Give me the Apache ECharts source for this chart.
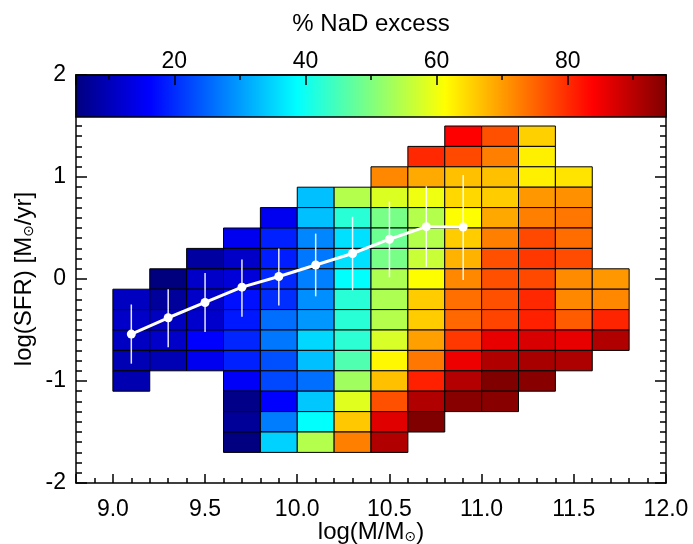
<!DOCTYPE html>
<html><head><meta charset="utf-8">
<script src="https://cdn.jsdelivr.net/npm/echarts@6/dist/echarts.min.js"></script>
<style>html,body{margin:0;padding:0;background:#fff}#c{width:693px;height:544px}</style>
</head><body><div id="c"></div>
<script>
// Bin centres
const massCenters = [9.1, 9.3, 9.5, 9.7, 9.9, 10.1, 10.3, 10.5, 10.7, 10.9, 11.1, 11.3, 11.5, 11.7];
const sfrCenters = [1.4, 1.2, 1.0, 0.8, 0.6, 0.4, 0.2, 0.0, -0.2, -0.4, -0.6, -0.8, -1.0, -1.2, -1.4, -1.6];
const binSize = 0.2;
const n = null;
// % NaD excess per SFR row (columns follow massCenters)
const row_1p4  = [n, n, n, n, n, n, n, n, n, 83.8, 76.7, 65.4, n, n];
const row_1p2  = [n, n, n, n, n, n, n, n, 80.2, 77.4, 72.5, 62.6, n, n];
const row_1p0  = [n, n, n, n, n, n, n, 71.7, 68.7, 66.8, 66.8, 62.6, 63.6, n];
const row_0p8  = [n, n, n, n, n, 33.2, 54.6, 58.2, 59.9, 64.7, 65.7, 70.3, 71.0, n];
const row_0p6  = [n, n, n, n, 14.9, 33.2, 42.3, 49.3, 54.6, 61.3, 68.9, 72.5, 73.2, n];
const row_0p4  = [n, n, n, 14.9, 19.1, 28.2, 36.0, 48.3, 54.6, 65.7, 72.5, 77.4, 74.2, n];
const row_0p2  = [n, n, 7.9, 11.4, 18.8, 26.8, 36.0, 49.3, 56.4, 67.9, 76.7, 78.8, 77.0, n];
const row_0p0  = [n, 5.0, 11.4, 12.8, 19.8, 27.5, 38.8, 54.0, 61.3, 71.7, 76.7, 77.4, 71.4, 70.3];
const row_m0p2 = [10.7, 7.4, 11.4, 17.7, 20.3, 28.9, 42.3, 54.0, 65.7, 73.9, 76.7, 80.2, 71.7, 71.7];
const row_m0p4 = [11.4, 10.7, 11.8, 18.4, 26.1, 29.7, 42.3, 54.6, 65.7, 74.6, 77.7, 80.9, 75.6, 80.6];
const row_m0p6 = [11.0, 11.4, 16.2, 19.5, 26.8, 35.3, 42.6, 57.8, 69.6, 78.8, 85.8, 87.2, 85.8, 90.7];
const row_m0p8 = [9.7, 9.7, 14.9, 19.1, 23.3, 33.2, 45.8, 61.9, 73.2, 85.2, 90.7, 91.4, 91.0, n];
const row_m1p0 = [9.3, n, n, 15.6, 22.6, 26.1, 52.9, 66.8, 80.9, 90.3, 94.9, 94.2, n, n];
const row_m1p2 = [n, n, n, 5.8, 16.2, 33.9, 58.5, 76.7, 90.7, 94.2, 94.2, n, n, n];
const row_m1p4 = [n, n, n, 7.2, 27.3, 38.8, 66.1, 86.5, 94.9, n, n, n, n, n];
const row_m1p6 = [n, n, n, 5.1, 34.8, 54.6, 72.5, 90.7, n, n, n, n, n, n];
const nadRows = [row_1p4, row_1p2, row_1p0, row_0p8, row_0p6, row_0p4, row_0p2, row_0p0,
  row_m0p2, row_m0p4, row_m0p6, row_m0p8, row_m1p0, row_m1p2, row_m1p4, row_m1p6];

// Median relation with error bars
const medianMass = [9.1, 9.3, 9.5, 9.7, 9.9, 10.1, 10.3, 10.5, 10.7, 10.9];
const medianSFR  = [-0.54, -0.38, -0.23, -0.08, 0.025, 0.137, 0.25, 0.39, 0.513, 0.51];
const errLow     = [-0.83, -0.67, -0.52, -0.37, -0.26, -0.17, -0.11, 0.016, 0.12, -0.01];
const errHigh    = [-0.25, -0.10, 0.06, 0.19, 0.30, 0.445, 0.61, 0.76, 0.91, 1.02];

// Colour bar
const cbarMin = 5, cbarMax = 95;
const jet = ['#00007F', '#0000FF', '#007FFF', '#00FFFF', '#7FFF7F', '#FFFF00', '#FF7F00', '#FF0000', '#7F0000'];

const cells = [];
nadRows.forEach((row, i) => row.forEach((v, j) => { if (v !== null) cells.push([massCenters[j], sfrCenters[i], v]); }));
const meanLine = medianMass.map((m, i) => [m, medianSFR[i]]);
const errBars = medianMass.map((m, i) => [m, errLow[i], errHigh[i]]);

const FONT = 'Liberation Sans';
const mkLine = () => ({ show: true, onZero: false, lineStyle: { color: '#000', width: 1.5 } });
const mkTick = (len) => ({ show: true, inside: true, length: len, lineStyle: { color: '#000', width: 1.5 } });
const subRich = () => ({ sub: { fontSize: 14, fontFamily: 'DejaVu Sans', padding: [10, 0, 0, 0] } });

const chart = echarts.init(document.getElementById('c'), null, { renderer: 'canvas' });
chart.setOption({
  animation: false,
  grid: [
    { left: 76, right: 27, top: 75, bottom: 61, outerBoundsMode: 'none' },
    { left: 76, right: 27, top: 75, height: 42, outerBoundsMode: 'none' }
  ],
  visualMap: [{ type: 'continuous', show: false, min: cbarMin, max: cbarMax, dimension: 2, seriesIndex: 0, inRange: { color: jet } }],
  xAxis: [
    { type: 'value', gridIndex: 0, min: 8.8, max: 12.0, splitNumber: 6, position: 'bottom',
      axisLine: mkLine(), splitLine: { show: false },
      axisTick: mkTick(9),
      minorTick: { show: true, splitNumber: 5, length: 5, lineStyle: { color: '#000', width: 1.5 } },
      axisLabel: { show: true, fontSize: 23, color: '#000', fontFamily: FONT, margin: 15, showMinLabel: false, formatter: v => v.toFixed(1) },
      name: 'log(M/M{sub|⊙})', nameLocation: 'middle', nameGap: 37, nameMoveOverlap: false,
      nameTextStyle: { fontSize: 24, color: '#000', fontFamily: FONT, rich: subRich() } },
    { type: 'value', gridIndex: 1, min: cbarMin, max: cbarMax, position: 'top', z: 10,
      axisLine: mkLine(), splitLine: { show: false },
      axisTick: mkTick(10),
      minorTick: { show: true, splitNumber: 2, length: 5, lineStyle: { color: '#000', width: 1.5 } },
      axisLabel: { show: true, fontSize: 23, color: '#000', fontFamily: FONT, margin: 2, formatter: v => (v % 20 === 0 ? String(v) : '') },
      name: '% NaD excess', nameLocation: 'middle', nameGap: 39, nameMoveOverlap: false,
      nameTextStyle: { fontSize: 24, color: '#000', fontFamily: FONT } }
  ],
  yAxis: [
    { type: 'value', gridIndex: 0, min: -2, max: 2, interval: 1, position: 'left',
      axisLine: mkLine(), splitLine: { show: false },
      axisTick: mkTick(11),
      minorTick: { show: true, splitNumber: 10, length: 6, lineStyle: { color: '#000', width: 1.5 } },
      axisLabel: { show: true, fontSize: 23, color: '#000', fontFamily: FONT, margin: 10 },
      name: 'log(SFR) [M{sub|⊙}/yr]', nameLocation: 'middle', nameGap: 40, nameRotate: 90, nameMoveOverlap: false,
      nameTextStyle: { fontSize: 24, color: '#000', fontFamily: FONT, rich: subRich() } },
    { type: 'value', gridIndex: 0, min: -2, max: 2, interval: 1, position: 'right',
      axisLine: mkLine(), splitLine: { show: false },
      axisTick: mkTick(11),
      minorTick: { show: true, splitNumber: 10, length: 6, lineStyle: { color: '#000', width: 1.5 } },
      axisLabel: { show: false } },
    { type: 'value', gridIndex: 1, min: 0, max: 1, show: false }
  ],
  series: [
    { type: 'custom', name: 'cells', xAxisIndex: 0, yAxisIndex: 0, data: cells, z: 2,
      renderItem: (params, api) => {
        const x = api.value(0), y = api.value(1);
        const p0 = api.coord([x - binSize / 2, y + binSize / 2]);
        const p1 = api.coord([x + binSize / 2, y - binSize / 2]);
        return { type: 'rect', shape: { x: p0[0], y: p0[1], width: p1[0] - p0[0], height: p1[1] - p0[1] },
          style: { fill: api.visual('color'), stroke: '#000', lineWidth: 1 } };
      } },
    { type: 'custom', name: 'errors', xAxisIndex: 0, yAxisIndex: 0, data: errBars, z: 4,
      renderItem: (params, api) => {
        const a = api.coord([api.value(0), api.value(1)]);
        const b = api.coord([api.value(0), api.value(2)]);
        return { type: 'line', shape: { x1: a[0], y1: a[1], x2: b[0], y2: b[1] },
          style: { stroke: 'rgba(255,255,255,0.9)', lineWidth: 1.5 } };
      } },
    { type: 'line', name: 'median', xAxisIndex: 0, yAxisIndex: 0, data: meanLine, z: 5,
      symbol: 'circle', symbolSize: 9, showSymbol: true,
      lineStyle: { color: '#fff', width: 3 }, itemStyle: { color: '#fff', borderWidth: 0 } },
    { type: 'custom', name: 'colorbar', xAxisIndex: 1, yAxisIndex: 2, data: [[cbarMin, cbarMax]], z: 6,
      renderItem: (params, api) => {
        const p0 = api.coord([api.value(0), 1]);
        const p1 = api.coord([api.value(1), 0]);
        const stops = jet.map((c, i) => ({ offset: i / (jet.length - 1), color: c }));
        return { type: 'rect', shape: { x: p0[0], y: p0[1], width: p1[0] - p0[0], height: p1[1] - p0[1] },
          style: { fill: new echarts.graphic.LinearGradient(0, 0, 1, 0, stops), stroke: '#000', lineWidth: 1.5 } };
      } }
  ]
});
</script></body></html>
